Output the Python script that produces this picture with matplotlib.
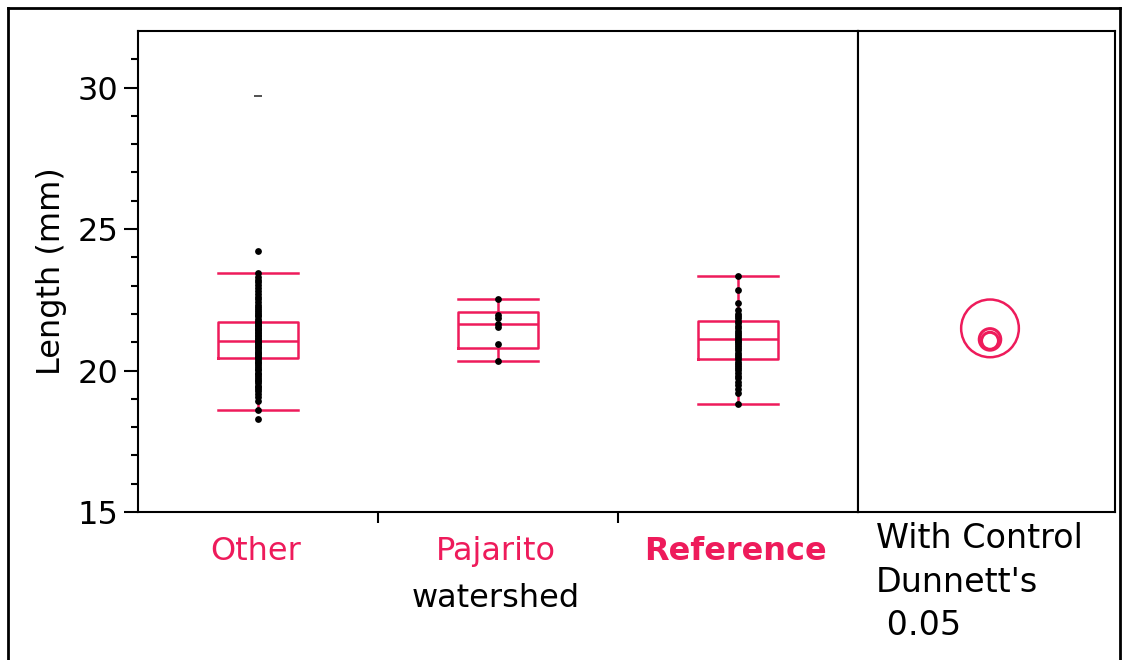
import matplotlib
matplotlib.use("Agg")
import matplotlib.pyplot as plt
from matplotlib.patches import Circle
from matplotlib.lines import Line2D

# data
groups = ["Other", "Pajarito\nwatershed", "Reference"]
q_low = [18.62, 20.33, 18.81]     # lower whisker cap
q1 = [20.45, 20.78, 20.40]
median = [21.05, 21.64, 21.10]
q3 = [21.72, 22.07, 21.74]
q_high = [23.46, 22.54, 23.34]    # upper whisker cap

other_pts = [18.30, 18.62, 18.93, 19.07, 19.18, 19.26, 19.33, 19.42, 19.47, 19.55,
             19.63, 19.68, 19.74, 19.82, 19.88, 19.93, 20.02, 20.06, 20.13, 20.21,
             20.27, 20.31, 20.38, 20.44, 20.47, 20.53, 20.58, 20.62, 20.67, 20.73,
             20.78, 20.82, 20.87, 20.92, 20.96, 21.01, 21.05, 21.12, 21.16, 21.22,
             21.27, 21.31, 21.36, 21.42, 21.47, 21.52, 21.57, 21.61, 21.66, 21.72,
             21.76, 21.83, 21.91, 21.97, 22.03, 22.11, 22.17, 22.24, 22.32, 22.41,
             22.52, 22.61, 22.72, 22.81, 22.93, 23.02, 23.12, 23.21, 23.32, 23.43,
             24.21]
other_dash = 29.7
pajarito_pts = [20.33, 20.92, 21.54, 21.66, 21.84, 21.95, 22.54]
reference_pts = [18.81, 19.22, 19.36, 19.48, 19.61, 19.72, 19.81, 19.92, 20.01, 20.09,
                 20.16, 20.24, 20.31, 20.42, 20.49, 20.56, 20.63, 20.71, 20.79, 20.86,
                 20.92, 21.01, 21.06, 21.12, 21.19, 21.26, 21.33, 21.41, 21.49, 21.58,
                 21.67, 21.76, 21.84, 21.93, 22.01, 22.13, 22.38, 22.84, 23.34]

# comparison circles: (center, radius)
circle_centers = [21.49, 21.05, 21.10]
circle_radii = [1.02, 0.30, 0.38]

pink = "#EE1B5B"
fs = 23

plt.rcParams["font.family"] = ["DejaVu Sans"]
fig = plt.figure(figsize=(11.29, 6.6), dpi=100)

W, H = 1129, 660
ax = fig.add_axes((138 / W, (H - 512) / H, 720 / W, 481 / H))
ax2 = fig.add_axes((858 / W, (H - 512) / H, 257 / W, 481 / H))

# boxes
stats = []
for i in range(3):
    stats.append(dict(med=median[i], q1=q1[i], q3=q3[i],
                      whislo=q_low[i], whishi=q_high[i], fliers=[]))
style = dict(color=pink, linewidth=1.8)
ax.bxp(stats, positions=[0, 1, 2], widths=1 / 3, capwidths=1 / 3,
       showfliers=False, boxprops=style, whiskerprops=style,
       capprops=style, medianprops=style)

pts = [other_pts, pajarito_pts, reference_pts]
for i, p in enumerate(pts):
    ax.scatter([i] * len(p), p, s=24, color="black", zorder=5, linewidths=0)
ax.plot([0], [other_dash], marker="_", color="#333333", markersize=6, mew=1.2)

ax.set_xlim(-0.5, 2.5)
ax.set_ylim(15, 32)
ax.set_yticks([15, 20, 25, 30])
ax.set_yticks(range(15, 32), minor=True)
ax.tick_params(axis="y", which="major", length=10, width=1.5, labelsize=fs, pad=4)
ax.tick_params(axis="y", which="minor", length=5, width=1.5)
ax.set_xticks([0.5, 1.5])
ax.set_xticklabels([])
ax.tick_params(axis="x", length=8, width=1.5)
ax.set_ylabel("Length (mm)", fontsize=fs, labelpad=8)
for s in ax.spines.values():
    s.set_linewidth(1.5)

for i, g in enumerate(groups):
    lines = g.split("\n")
    ax.text(i - 0.01, -0.05, lines[0], transform=ax.get_xaxis_transform(),
            ha="center", va="top", fontsize=fs, color=pink,
            fontweight="bold" if lines[0] == "Reference" else "normal")
    if len(lines) > 1:
        ax.text(i - 0.01, -0.148, lines[1], transform=ax.get_xaxis_transform(),
                ha="center", va="top", fontsize=fs, color="black")

# comparison circles panel
px_per_unit = 481 / 17
xspan = 257 / px_per_unit
ax2.set_ylim(15, 32)
ax2.set_xlim(0, xspan)
cx = 132 / px_per_unit
for c, r in zip(circle_centers, circle_radii):
    ax2.add_patch(Circle((cx, c), r, fill=False, edgecolor=pink,
                         linewidth=2.2 if r < 0.5 else 1.8))
ax2.set_xticks([])
ax2.set_yticks([])
for s in ax2.spines.values():
    s.set_linewidth(1.5)
ax2.text(0.07, -0.02, "With Control\nDunnett's\n 0.05", transform=ax2.transAxes,
         ha="left", va="top", fontsize=24, linespacing=1.42)

# outer frame
fig.add_artist(Line2D([8 / W, 8 / W], [0, 1 - 8 / H], color="black", lw=2,
                      transform=fig.transFigure))
fig.add_artist(Line2D([8 / W, 1120 / W], [1 - 8 / H, 1 - 8 / H], color="black", lw=2,
                      transform=fig.transFigure))
fig.add_artist(Line2D([1120 / W, 1120 / W], [0, 1 - 8 / H], color="black", lw=2,
                      transform=fig.transFigure))

fig.savefig("out.png", dpi=100)
